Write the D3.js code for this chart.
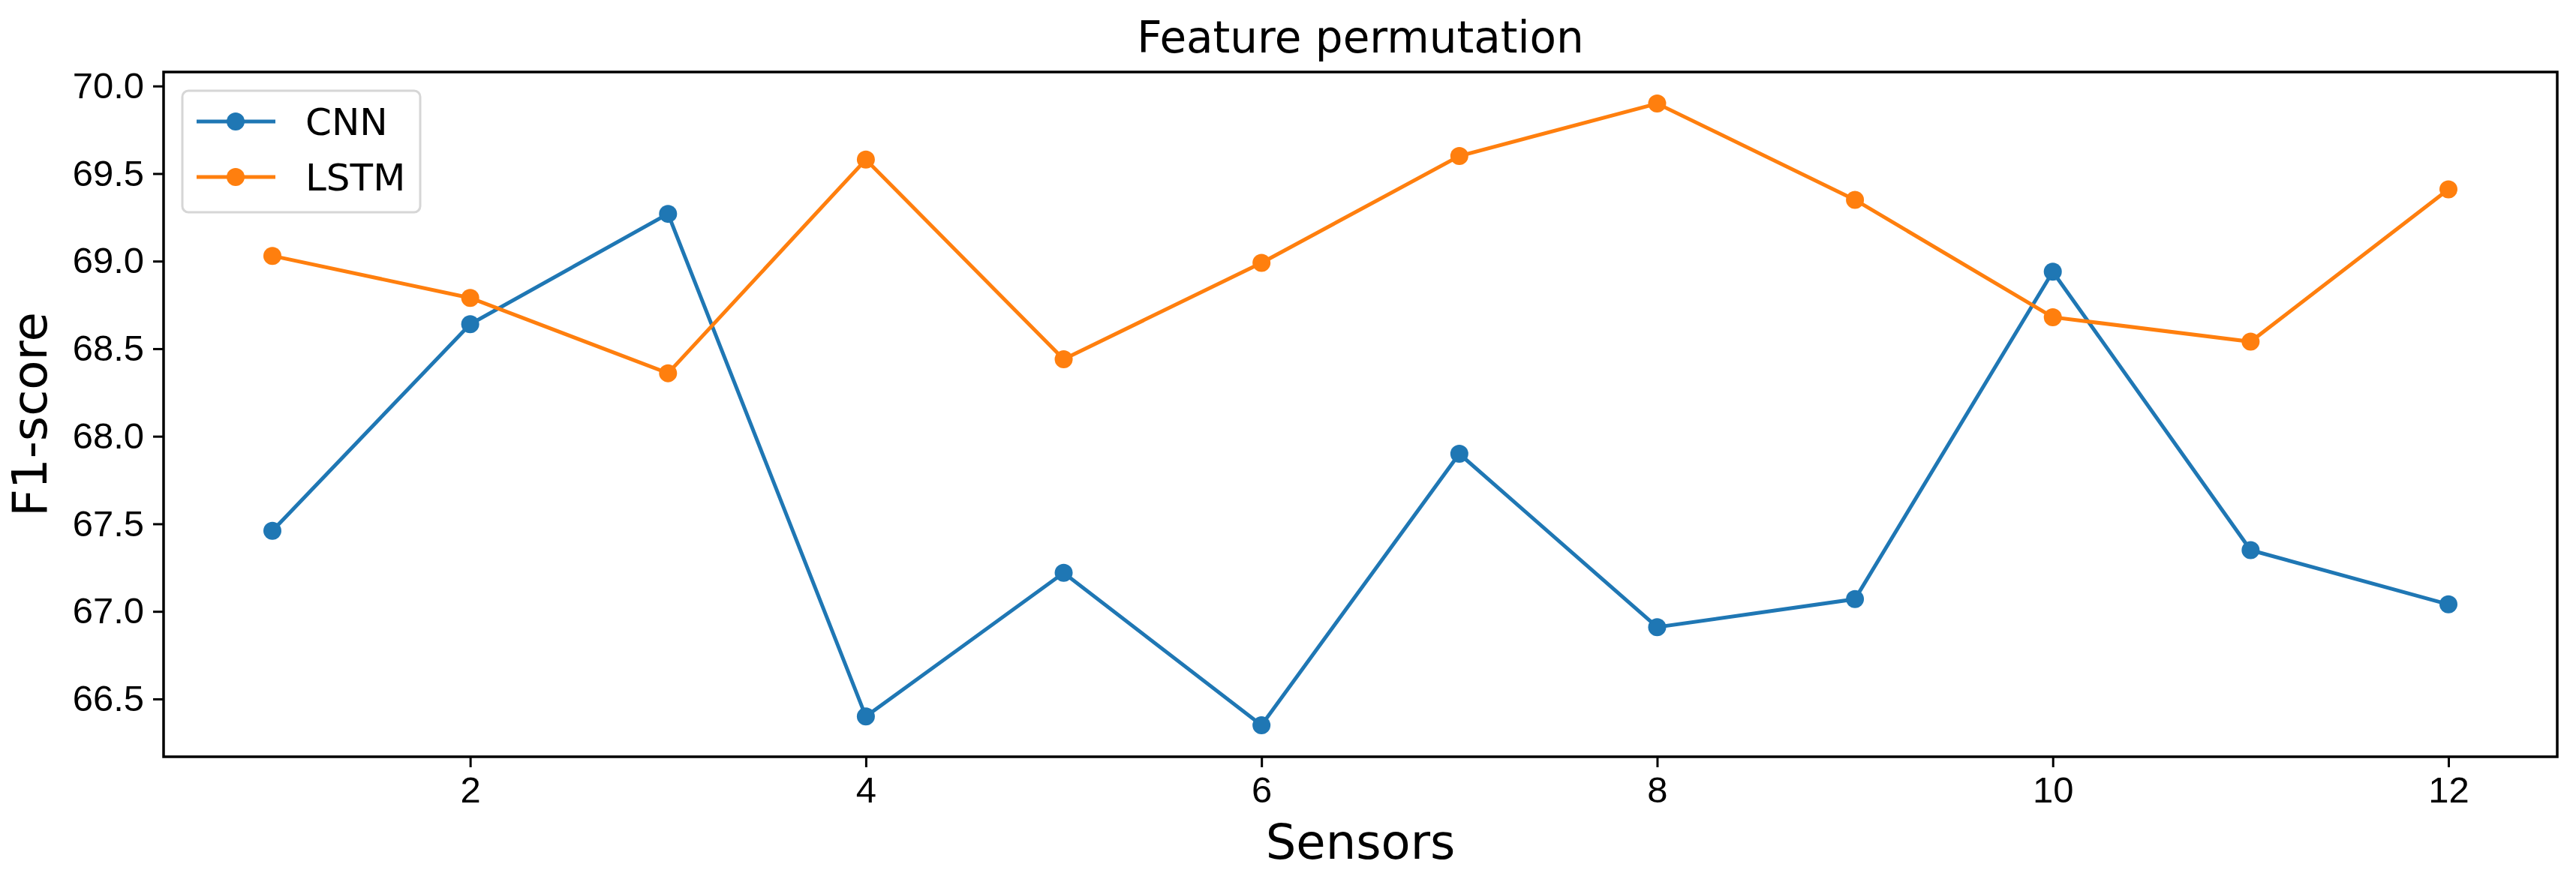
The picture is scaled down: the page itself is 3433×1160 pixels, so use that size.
<!DOCTYPE html>
<html><head><meta charset="utf-8">
<script src="https://cdn.jsdelivr.net/npm/d3@7"></script>
<style>body{margin:0;background:#fff}svg{display:block;font-family:"DejaVu Sans",sans-serif}</style>
</head><body>
<svg id="c" width="3433" height="1160"></svg>
<script>
const sensors = [1,2,3,4,5,6,7,8,9,10,11,12];
const cnn  = [67.46,68.64,69.27,66.40,67.22,66.35,67.90,66.91,67.07,68.94,67.35,67.04];
const lstm = [69.03,68.79,68.36,69.58,68.44,68.99,69.60,69.90,69.35,68.68,68.54,69.41];
const xTicks = [2,4,6,8,10,12];
const yTicks = [66.5,67.0,67.5,68.0,68.5,69.0,69.5,70.0];
const seriesNames = ["CNN","LSTM"];
const colors = ["#1f77b4","#ff7f0e"];

const svg = d3.select("#c");
const L=218,R=3408,T=96,B=1009;
const x = d3.scaleLinear().domain([0.45,12.55]).range([L,R]);
const y = d3.scaleLinear().domain([66.17,70.08]).range([B,T]);

const xa = svg.append("g").attr("transform",`translate(0,${B})`)
  .call(d3.axisBottom(x).tickValues(xTicks).tickSize(14).tickPadding(12).tickFormat(d3.format("d")));
const ya = svg.append("g").attr("transform",`translate(${L},0)`)
  .call(d3.axisLeft(y).tickValues(yTicks).tickSize(14).tickPadding(12).tickFormat(d3.format(".1f")));
[xa,ya].forEach(a=>{a.select(".domain").remove();a.selectAll("line").attr("stroke","#000").attr("stroke-width",3);
  a.selectAll("text").attr("font-size",49).attr("fill","#000");});

const line = d3.line().x((d,i)=>x(sensors[i])).y(d=>y(d));
[cnn,lstm].forEach((s,k)=>{
  svg.append("path").datum(s).attr("d",line).attr("fill","none").attr("stroke",colors[k]).attr("stroke-width",5);
  svg.append("g").selectAll("circle").data(s).join("circle")
    .attr("cx",(d,i)=>x(sensors[i])).attr("cy",d=>y(d)).attr("r",12).attr("fill",colors[k]);
});

svg.append("rect").attr("x",L).attr("y",T).attr("width",R-L).attr("height",B-T)
  .attr("fill","none").attr("stroke","#000").attr("stroke-width",3.5);

// legend
svg.append("rect").attr("x",243).attr("y",121).attr("width",317).attr("height",162).attr("rx",8)
  .attr("fill","#fff").attr("fill-opacity",0.8).attr("stroke","#d6d6d6").attr("stroke-width",3);
seriesNames.forEach((n,k)=>{
  const yy = 162+k*74;
  svg.append("line").attr("x1",262).attr("x2",367).attr("y1",yy).attr("y2",yy).attr("stroke",colors[k]).attr("stroke-width",5);
  svg.append("circle").attr("cx",314).attr("cy",yy).attr("r",12).attr("fill",colors[k]);
  svg.append("text").attr("x",407).attr("y",yy).attr("dy","0.36em").attr("font-size",50).text(n);
});

svg.append("text").attr("x",(L+R)/2).attr("y",70).attr("text-anchor","middle").attr("font-size",58).text("Feature permutation");
svg.append("text").attr("x",(L+R)/2).attr("y",1145).attr("text-anchor","middle").attr("font-size",64).text("Sensors");
svg.append("text").attr("transform",`translate(62,${(T+B)/2}) rotate(-90)`).attr("text-anchor","middle").attr("font-size",64).text("F1-score");
</script>
</body></html>
